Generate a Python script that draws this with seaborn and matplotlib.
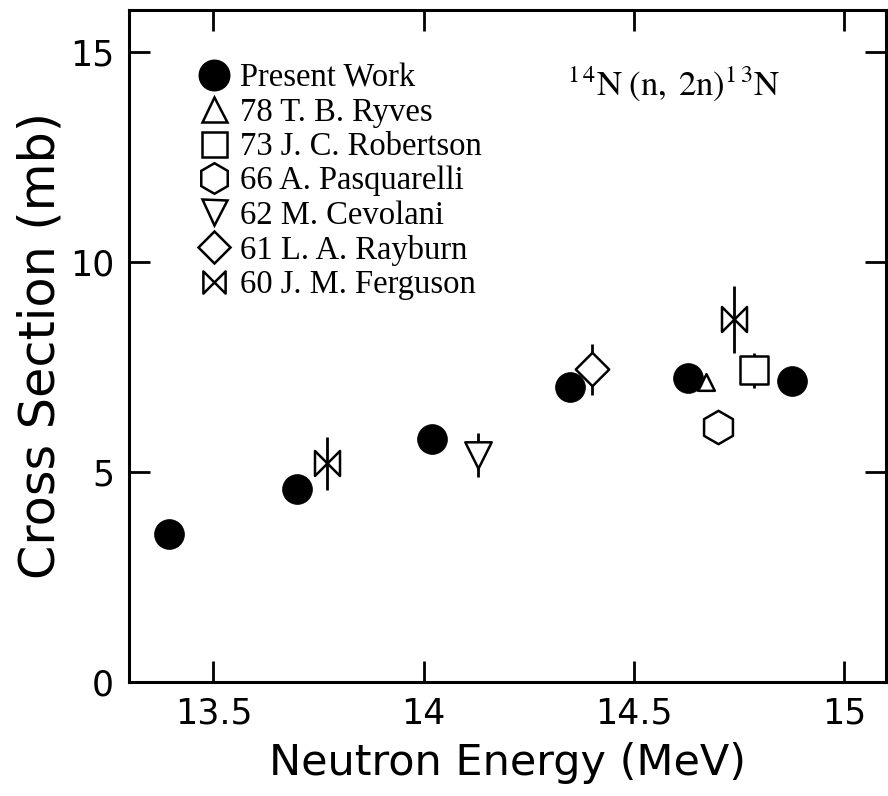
import numpy as np
import pandas as pd
import matplotlib
matplotlib.use("Agg")
import matplotlib.pyplot as plt
from matplotlib.path import Path
from matplotlib.lines import Line2D
import seaborn as sns

# ---------------- data ----------------
present_x = [13.395, 13.700, 14.019, 14.349, 14.630, 14.876]
present_y = [3.53, 4.60, 5.78, 7.03, 7.23, 7.17]

ryves_x = [14.673]
ryves_y = [7.15]

robertson_x = [14.785]
robertson_y = [7.42]
robertson_err = [0.42]

pasquarelli_x = [14.701]
pasquarelli_y = [6.07]

cevolani_x = [14.130]
cevolani_y = [5.40]
cevolani_err = [0.52]

rayburn_x = [14.400]
rayburn_y = [7.44]
rayburn_err = [0.60]

ferguson_x = [13.771, 14.739]
ferguson_y = [5.20, 8.63]
ferguson_err = [0.64, 0.79]

legend_labels = ["Present Work", "78 T. B. Ryves", "73 J. C. Robertson",
                 "66 A. Pasquarelli", "62 M. Cevolani", "61 L. A. Rayburn",
                 "60 J. M. Ferguson"]
x_ticks = [13.5, 14.0, 14.5, 15.0]
x_tick_labels = ["13.5", "14", "14.5", "15"]
y_ticks = [0, 5, 10, 15]
y_tick_labels = ["0", "5", "10", "15"]

# ---------------- style ----------------
sns.set_theme(style="ticks")
plt.rcParams["font.family"] = ["DejaVu Sans"]
plt.rcParams["mathtext.fontset"] = "stix"
plt.rcParams["text.color"] = "black"
plt.rcParams["axes.labelcolor"] = "black"

fig = plt.figure(figsize=(8.88, 7.96), dpi=100)
ax = fig.add_axes([129.3 / 888, 1 - 681.7 / 796, (886 - 129.3) / 888, (681.7 - 10) / 796])

bowtie = Path([(-1, 1), (-1, -1), (1, 1), (1, -1), (-1, 1)],
              [Path.MOVETO, Path.LINETO, Path.LINETO, Path.LINETO, Path.CLOSEPOLY])

LW = 1.8
# error bars (under markers)
for xs, ys, es in [(robertson_x, robertson_y, robertson_err),
                   (cevolani_x, cevolani_y, cevolani_err),
                   (rayburn_x, rayburn_y, rayburn_err),
                   (ferguson_x, ferguson_y, ferguson_err)]:
    ax.errorbar(xs, ys, yerr=es, fmt="none", ecolor="black", elinewidth=2.0,
                capsize=0, zorder=2)

def open_series(xs, ys, marker, ms, z=3):
    df = pd.DataFrame({"x": xs, "y": ys})
    sns.scatterplot(data=df, x="x", y="y", marker=marker, s=ms ** 2,
                    color="white", edgecolor="black", linewidth=LW,
                    ax=ax, zorder=z, legend=False)

open_series(ryves_x, ryves_y, "^", 12)
open_series(robertson_x, robertson_y, "s", 20)
open_series(pasquarelli_x, pasquarelli_y, "h", 24)
open_series(cevolani_x, cevolani_y, "v", 19)
open_series(rayburn_x, rayburn_y, "D", 17)
open_series(ferguson_x, ferguson_y, bowtie, 18, z=1.5)

df_p = pd.DataFrame({"x": present_x, "y": present_y})
sns.scatterplot(data=df_p, x="x", y="y", marker="o", s=21.5 ** 2,
                color="black", edgecolor="black", linewidth=0.5, ax=ax,
                zorder=5, legend=False)

# ---------------- axes ----------------
ax.set_xlim(13.3, 15.1)
ax.set_ylim(0, 16)
ax.set_xticks(x_ticks)
ax.set_xticklabels(x_tick_labels)
ax.set_yticks(y_ticks)
ax.set_yticklabels(y_tick_labels)
ax.tick_params(direction="in", length=15, width=2.0, top=True, right=True,
               labelsize=25, pad=11, colors="black")
for sp in ax.spines.values():
    sp.set_linewidth(2.2)
    sp.set_color("black")
    sp.set_visible(True)

ax.set_xlabel("Neutron Energy (MeV)", fontsize=31, labelpad=8)
ax.set_ylabel("Cross Section (mb)", fontsize=35.5, labelpad=4)

# reaction annotation
ax.text(14.34, 14.26, r"$^{1\,4}\mathrm{N\;(n,\;2n)}^{1\,3}\mathrm{N}$",
        fontsize=25, ha="left", va="center", color="black")

# ---------------- legend ----------------
handles = [
    Line2D([], [], ls="none", marker="o", ms=22, mfc="black", mec="black"),
    Line2D([], [], ls="none", marker="^", ms=18, mfc="white", mec="black", mew=LW),
    Line2D([], [], ls="none", marker="s", ms=18, mfc="white", mec="black", mew=LW),
    Line2D([], [], ls="none", marker="h", ms=22, mfc="white", mec="black", mew=LW),
    Line2D([], [], ls="none", marker="v", ms=18, mfc="white", mec="black", mew=LW),
    Line2D([], [], ls="none", marker="D", ms=16, mfc="white", mec="black", mew=LW),
    Line2D([], [], ls="none", marker=bowtie, ms=16, mfc="white", mec="black", mew=LW),
]
leg = ax.legend(handles, legend_labels, loc="upper left",
                bbox_to_anchor=(0.071, 0.946), frameon=False, borderpad=0,
                handlelength=0.9, handletextpad=0.36, labelspacing=0.12,
                prop={"family": "Liberation Serif", "size": 23.5})

fig.savefig("out.png", dpi=100)
